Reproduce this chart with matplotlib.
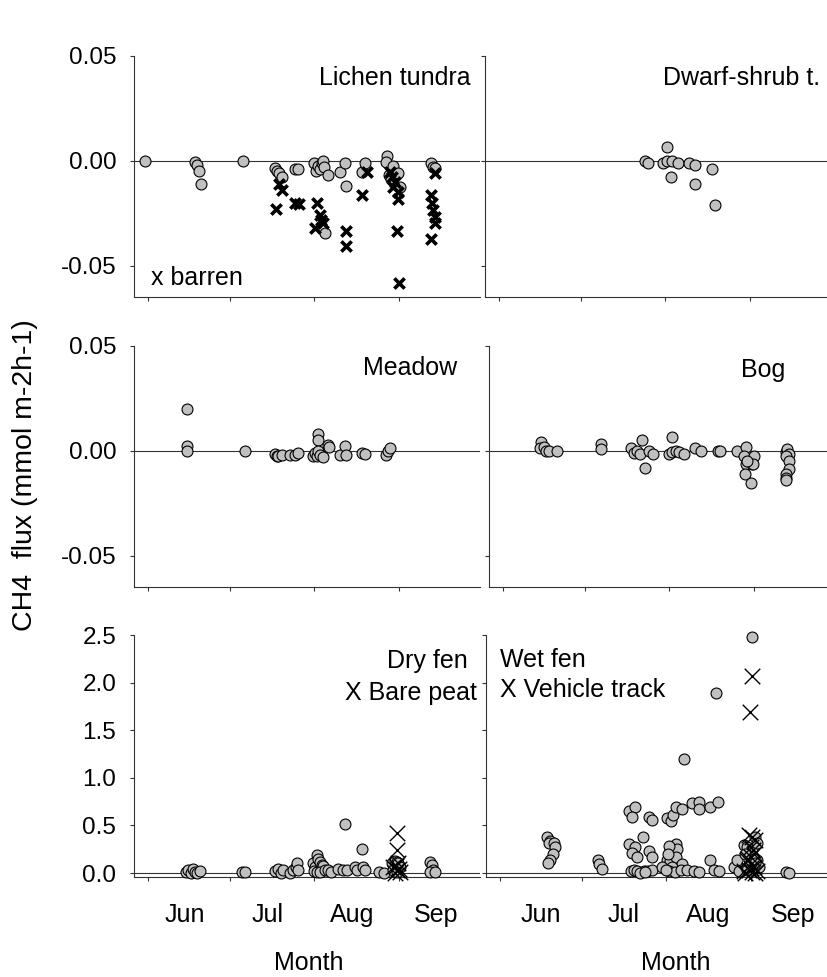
import matplotlib
matplotlib.use("Agg")
import matplotlib.pyplot as plt
from matplotlib.ticker import FixedLocator, FixedFormatter, NullFormatter

plt.rcParams['font.family'] = ['Liberation Sans', 'DejaVu Sans']
plt.rcParams['axes.unicode_minus'] = False

# ---------------- data (x = day of year, y = CH4 flux) ----------------
lichen_day = [151.0, 169.3, 169.9, 170.9, 171.4, 186.8, 198.6, 199.2, 200.1, 201.0, 205.9, 207.1,
              213.0, 213.6, 214.4, 215.1, 215.7, 216.0, 216.5, 218.1, 216.9, 222.4, 224.2, 224.5,
              230.3, 231.5, 239.4, 239.2, 241.6, 240.4, 240.9, 243.7, 244.3, 255.7, 256.5, 257.1]
lichen_flux = [0.0, -0.0003, -0.0019, -0.0048, -0.011, 0.0, -0.0035, -0.0048, -0.0059, -0.0075, -0.0038, -0.0038,
               -0.0008, -0.0048, -0.0024, -0.0038, -0.0011, 0.0002, -0.0027, -0.0067, -0.0345, -0.0051, -0.0008, -0.0118,
               -0.0051, -0.0008, 0.0024, -0.0005, -0.0024, -0.0067, -0.0087, -0.0059, -0.0122, -0.0011, -0.0027, -0.0035]
barren_day = [198.8, 200.1, 201.0, 205.9, 207.4, 214.1, 215.1, 216.3, 213.2, 215.6, 224.5, 224.5,
              230.5, 232.1, 240.7, 241.3, 242.5, 241.9, 243.7, 243.7, 243.4, 243.9,
              257.1, 255.7, 256.1, 256.5, 257.3, 257.1, 255.7]
barren_flux = [-0.0231, -0.011, -0.0138, -0.0202, -0.0207, -0.0202, -0.0258, -0.0294, -0.0321, -0.028, -0.0332, -0.0404,
               -0.0162, -0.0051, -0.0051, -0.0075, -0.0099, -0.0122, -0.0146, -0.0183, -0.0332, -0.058,
               -0.0059, -0.0162, -0.0199, -0.0234, -0.0266, -0.0297, -0.0374]

dwarf_day = [205.5, 206.8, 212.2, 213.5, 213.5, 214.9, 215.3, 217.7, 221.8, 223.8, 223.8, 229.9, 231.2]
dwarf_flux = [0.0, -0.0011, -0.0011, 0.0068, 0.0, -0.0075, -0.0002, -0.0011, -0.0008, -0.0021, -0.0108, -0.004, -0.021]

meadow_day = [166.3, 166.3, 166.3, 187.6, 198.6, 199.2, 199.8, 201.0, 204.1, 205.9, 207.1, 212.6, 213.2,
              213.8, 214.2, 214.2, 214.4, 215.1, 216.3, 218.1, 218.2, 222.4, 224.2, 224.5, 230.3, 231.5,
              239.2, 240.1, 240.7]
meadow_flux = [0.0199, 0.0022, 0.0, 0.0, -0.0013, -0.0022, -0.0025, -0.0019, -0.0017, -0.0017, -0.0009, -0.0022, -0.0009,
               -0.0025, 0.0082, 0.0054, -0.0002, -0.0017, -0.0028, 0.003, 0.0019, -0.0017, 0.0022, -0.0017, -0.0009, -0.0014,
               -0.0017, -0.0002, 0.0014]

bog_day = [166.1, 165.8, 167.3, 167.7, 169.1, 171.7, 187.8, 187.8, 198.8, 200.0, 201.2, 203.1, 202.2, 203.9,
           205.5, 207.1, 212.8, 214.0, 214.0, 215.6, 216.7, 218.3, 222.2, 224.4, 230.7, 231.7, 237.8,
           240.9, 240.2, 240.9, 240.5, 242.7, 243.3, 243.9, 243.6, 241.5,
           255.5, 256.1, 256.7, 255.7, 256.7, 256.7, 255.7, 255.7, 255.7]
bog_flux = [0.0044, 0.0013, 0.0019, 0.0, 0.0, 0.0, 0.0032, 0.0008, 0.0013, -0.0008, 0.0, 0.0052, -0.0016, -0.0079,
            0.0, -0.0013, -0.0013, 0.0068, -0.0005, 0.0, -0.0005, -0.0013, 0.0013, 0.0, 0.0, 0.0, 0.0,
            0.0019, -0.0024, -0.0063, -0.0111, -0.0151, -0.0063, -0.0024, -0.0063, -0.0048,
            -0.0003, 0.0008, -0.0013, -0.0024, -0.0048, -0.0087, -0.0111, -0.0127, -0.014]

dryfen_day = [166.0, 166.9, 167.7, 168.7, 169.3, 169.9, 171.1, 186.4, 187.6,
              198.6, 199.8, 200.7, 201.7, 204.1, 205.3, 206.3, 206.8, 207.1,
              212.6, 213.2, 212.8, 213.8, 214.4, 215.1, 215.7, 216.3, 213.8, 215.1, 216.9, 218.1, 219.0,
              221.8, 223.6, 224.2, 224.8, 227.9, 228.5, 230.3, 230.9, 231.5, 236.8, 238.3,
              241.3, 242.5, 243.1, 243.7, 244.3, 241.9, 243.1,
              255.3, 255.9, 256.5, 255.3, 257.1]
dryfen_flux = [0.01, 0.035, 0.0, 0.045, 0.01, 0.0, 0.02, 0.01, 0.01,
               0.02, 0.04, 0.0, 0.03, 0.0, 0.035, 0.06, 0.1, 0.035,
               0.1, 0.06, 0.02, 0.19, 0.15, 0.12, 0.08, 0.07, 0.01, 0.01, 0.03, 0.035, 0.01,
               0.045, 0.035, 0.51, 0.03, 0.06, 0.03, 0.257, 0.06, 0.035, 0.01, 0.0,
               0.1, 0.13, 0.115, 0.1, 0.06, 0.03, 0.01,
               0.12, 0.08, 0.03, 0.01, 0.01]
barepeat_day = [243.4, 243.4, 241.9, 243.1, 244.3, 242.5, 243.7, 242.8, 244.0]
barepeat_flux = [0.415, 0.24, 0.06, 0.03, 0.01, 0.0, 0.1, 0.07, 0.04]

wetfen_day = [169.4, 170.6, 170.0, 171.8, 172.1, 171.6, 170.6, 169.7, 187.9, 188.3, 189.5,
              199.3, 201.5, 200.5, 206.6, 207.8, 199.3, 201.5, 200.5, 202.3, 204.5, 206.6, 207.8,
              199.9, 201.1, 202.3, 204.7, 206.0, 207.8, 203.5, 205.2,
              213.3, 214.8, 215.5, 216.7, 218.8, 219.6, 222.4, 224.9, 224.9, 228.9, 231.9, 231.1,
              213.3, 214.5, 216.7, 217.0, 216.7, 218.8, 215.1, 213.9, 216.3, 218.2, 220.6, 223.0,
              224.9, 229.1, 230.3, 232.2, 211.5, 212.7, 214.0, 213.6,
              237.7, 238.9, 239.5, 241.3, 242.6, 244.4, 245.6, 246.2, 246.2, 246.8, 244.4, 243.5,
              242.6, 241.9, 244.4, 245.0, 245.6, 256.6, 257.8]
wetfen_flux = [0.373, 0.338, 0.31, 0.317, 0.268, 0.204, 0.134, 0.106, 0.134, 0.099, 0.046,
               0.655, 0.693, 0.588, 0.584, 0.556, 0.303, 0.268, 0.215, 0.169, 0.38, 0.232, 0.169,
               0.021, 0.035, 0.021, 0.021, 0.021, 0.028, 0.0, 0.01,
               0.574, 0.549, 0.609, 0.697, 0.672, 1.197, 0.732, 0.743, 0.669, 0.697, 0.75, 1.894,
               0.134, 0.127, 0.303, 0.257, 0.169, 0.099, 0.063, 0.021, 0.011, 0.035, 0.035, 0.021,
               0.011, 0.134, 0.035, 0.021, 0.063, 0.028, 0.28, 0.2,
               0.063, 0.134, 0.021, 0.292, 0.275, 0.257, 0.373, 0.31, 0.134, 0.063, 0.028, 0.081,
               0.035, 0.204, 2.475, 0.15, 0.1, 0.011, 0.0]
vehicle_day = [244.4, 243.5, 243.2, 244.4, 245.6, 243.8, 245.0, 242.6, 243.8, 245.0, 243.2, 244.4,
               245.6, 241.9, 241.3, 246.2, 244.1, 244.7, 243.0, 244.0]
vehicle_flux = [2.07, 1.69, 0.398, 0.38, 0.345, 0.27, 0.204, 0.134, 0.099, 0.063, 0.028, 0.011,
                0.0, 0.0, 0.021, 0.021, 0.169, 0.246, 0.15, 0.05]

month_start = [152, 182, 213, 244]
month_names = ['Jun', 'Jul', 'Aug', 'Sep']
small_ticks = [0.05, 0.0, -0.05]
small_ticklabels = ['0.05', '0.00', '-0.05']
big_ticks = [0.0, 0.5, 1.0, 1.5, 2.0, 2.5]
big_ticklabels = ['0.0', '0.5', '1.0', '1.5', '2.0', '2.5']
ylabel = 'CH4  flux (mmol m-2h-1)'

# ---------------- layout ----------------
W, H = 827, 977
fig = plt.figure(figsize=(W / 100, H / 100), dpi=100)


def add_ax(l, t, r, b):
    return fig.add_axes([l / W, 1 - b / H, (r - l) / W, (b - t) / H])


def ftext(x, y, s, **kw):
    fig.text(x / W, 1 - y / H, s, **kw)


axes = {
    'TL': add_ax(134, 56, 480, 297),
    'TR': add_ax(485, 56, 831, 297),
    'ML': add_ax(134, 346, 480, 587),
    'MR': add_ax(489, 346, 835, 587),
    'BL': add_ax(134, 635, 480, 877),
    'BR': add_ax(486, 635, 832, 877),
}

spine_col = '#333333'
circ_kw = dict(s=62, facecolor='#c0c0c0', edgecolor='black', linewidths=0.8, zorder=3, clip_on=False)

for key, ax in axes.items():
    ax.set_xlim(147, 273.6)
    for sp in ['top', 'right']:
        ax.spines[sp].set_visible(False)
    for sp in ['left', 'bottom']:
        ax.spines[sp].set_color(spine_col)
        ax.spines[sp].set_linewidth(0.8)
    ax.axhline(0, color=spine_col, lw=0.8, zorder=1)
    ax.xaxis.set_major_locator(FixedLocator(month_start))
    ax.xaxis.set_major_formatter(NullFormatter())
    ax.tick_params(axis='both', which='major', direction='out', length=3.2, width=0.8,
                   color=spine_col, labelsize=17.5, pad=9.5)
    if key[0] == 'B':
        ax.set_ylim(-0.042, 2.5)
        ax.yaxis.set_major_locator(FixedLocator(big_ticks))
        ax.yaxis.set_major_formatter(FixedFormatter(big_ticklabels))
        off = 13.7 if key == 'BL' else 15.2
        ax.xaxis.set_minor_locator(FixedLocator([m + off for m in month_start]))
        ax.xaxis.set_minor_formatter(FixedFormatter(month_names))
        ax.tick_params(axis='x', which='minor', length=0, labelsize=18, pad=19)
    else:
        ax.set_ylim(-0.0648, 0.05)
        ax.yaxis.set_major_locator(FixedLocator(small_ticks))
        ax.yaxis.set_major_formatter(FixedFormatter(small_ticklabels))
    if key[1] == 'R':
        ax.yaxis.set_major_formatter(NullFormatter())

axes['TL'].scatter(lichen_day, lichen_flux, **circ_kw)
axes['TL'].scatter(barren_day, barren_flux, marker='x', s=55, color='black', linewidths=2.6, zorder=4)
axes['TR'].scatter(dwarf_day, dwarf_flux, **circ_kw)
axes['ML'].scatter(meadow_day, meadow_flux, **circ_kw)
axes['MR'].scatter(bog_day, bog_flux, **circ_kw)
axes['BL'].scatter(dryfen_day, dryfen_flux, **circ_kw)
axes['BL'].scatter(barepeat_day, barepeat_flux, marker='x', s=125, color='black', linewidths=1.0,
                   zorder=4, clip_on=False)
axes['BR'].scatter(wetfen_day, wetfen_flux, **circ_kw)
axes['BR'].scatter(vehicle_day, vehicle_flux, marker='x', s=125, color='black', linewidths=1.0,
                   zorder=4, clip_on=False)

fs = 18
ftext(471, 85, 'Lichen tundra', ha='right', va='baseline', fontsize=fs)
ftext(151, 285, 'x barren', ha='left', va='baseline', fontsize=fs)
ftext(820, 85, 'Dwarf-shrub t.', ha='right', va='baseline', fontsize=fs)
ftext(457, 375, 'Meadow', ha='right', va='baseline', fontsize=fs)
ftext(785, 377, 'Bog', ha='right', va='baseline', fontsize=fs)
ftext(468, 668, 'Dry fen', ha='right', va='baseline', fontsize=fs)
ftext(477, 700, 'X Bare peat', ha='right', va='baseline', fontsize=fs)
ftext(500, 667, 'Wet fen', ha='left', va='baseline', fontsize=fs)
ftext(500, 697, 'X Vehicle track', ha='left', va='baseline', fontsize=fs)
ftext(309, 970, 'Month', ha='center', va='baseline', fontsize=fs)
ftext(676, 970, 'Month', ha='center', va='baseline', fontsize=fs)
ftext(25, 475, ylabel, ha='center', va='center', rotation=90, fontsize=20.5)

fig.savefig('out.png', dpi=100)
